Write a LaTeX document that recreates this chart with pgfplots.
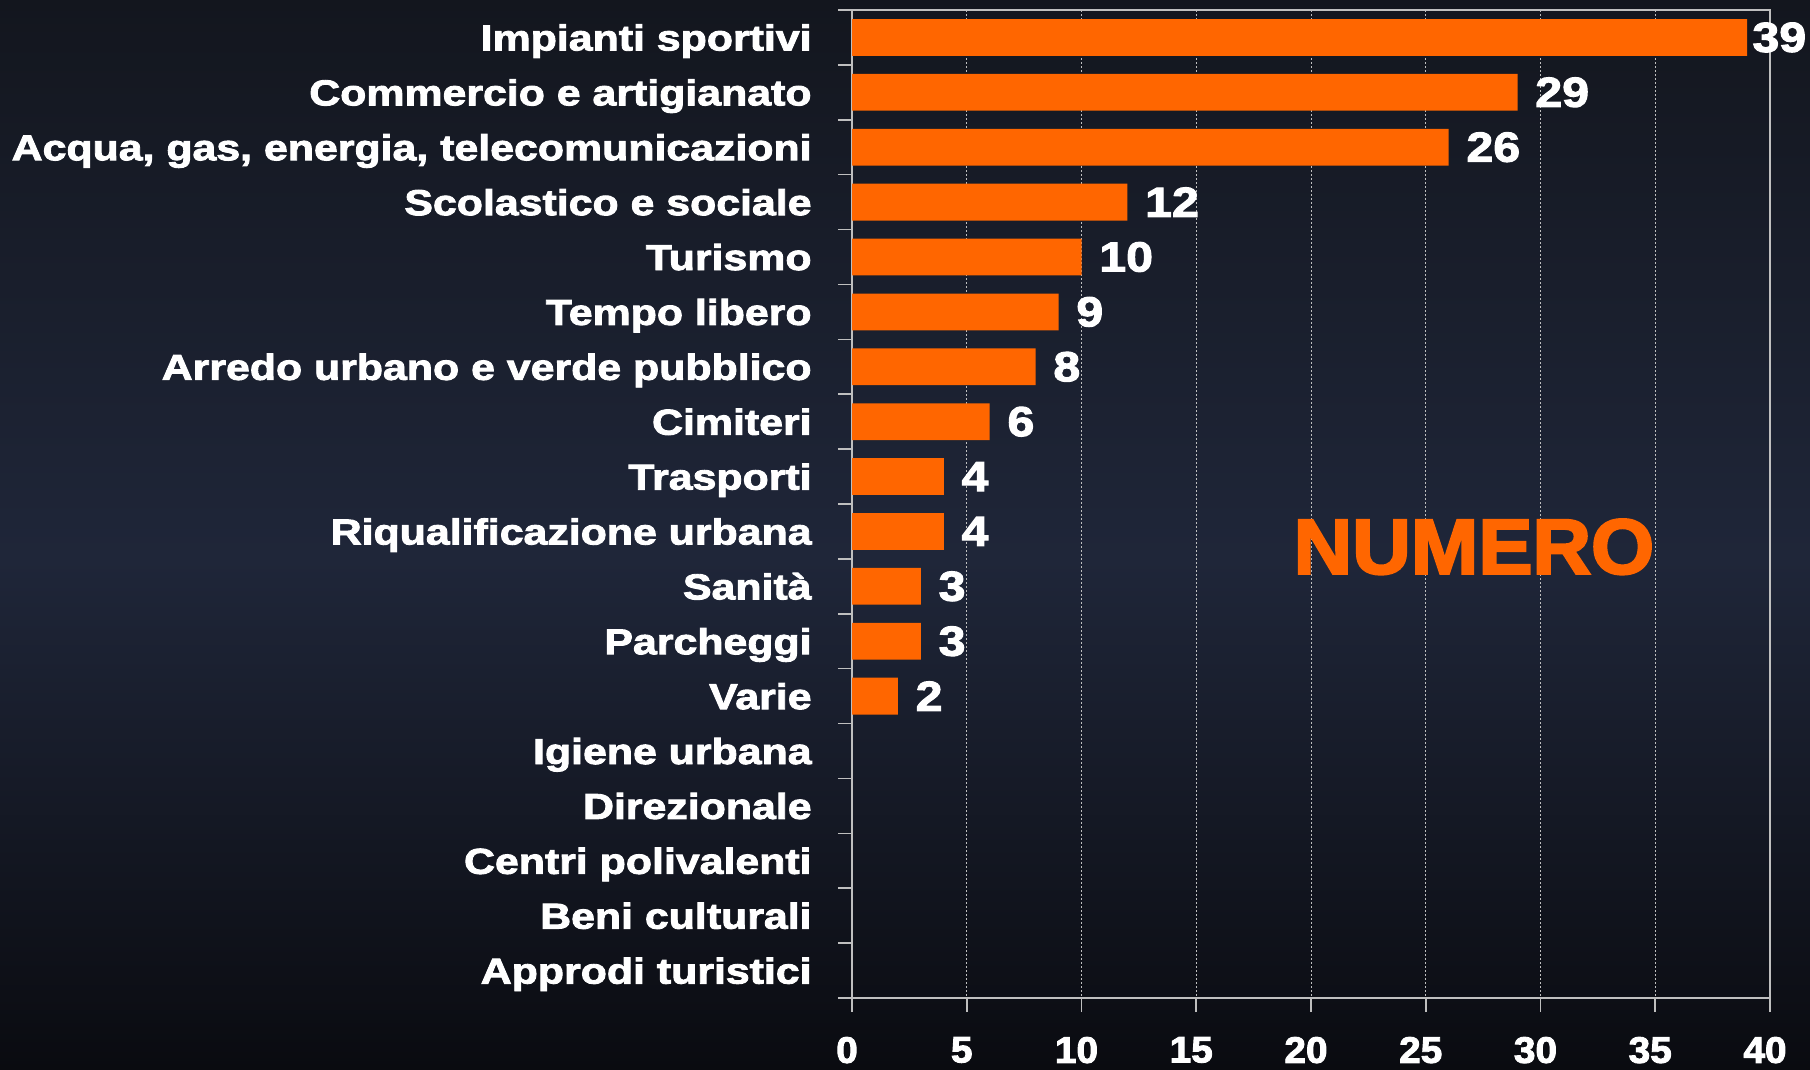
\documentclass[border=0pt]{standalone}
\usepackage{fontspec}
\usepackage{pgfplots}
\pgfplotsset{compat=1.18}
\newfontfamily\lblfont[FakeStretch=1.19,FakeBold=2.5]{Liberation Sans Bold}
\newfontfamily\valfont[FakeStretch=1.15,FakeBold=2.5]{Liberation Sans Bold}
\newfontfamily\tickfont[FakeStretch=1.05,FakeBold=2.5]{Liberation Sans Bold}
\newfontfamily\bigfont[FakeStretch=1.04,FakeBold=3]{Liberation Sans Bold}
\definecolor{bgtop}{HTML}{13161E}
\definecolor{bgmid}{HTML}{1F2639}
\definecolor{bgbot}{HTML}{0A0B10}
\definecolor{barorange}{HTML}{FF6600}
\definecolor{axgray}{HTML}{BFBFBF}
\begin{document}
\begin{tikzpicture}
\shade[top color=bgtop, bottom color=bgmid] (0,255pt) rectangle (905pt,535pt);
\shade[top color=bgmid, bottom color=bgbot] (0,0) rectangle (905pt,255.5pt);
\begin{axis}[
  at={(426pt,36pt)}, anchor=south west,
  width=459pt, height=494pt, scale only axis,
  xmin=0, xmax=40, ymin=-0.5, ymax=17.5, y dir=reverse,
  clip=false,
  xtick={0,5,...,40},
  ytick={-0.5,0.5,...,17.5},
  yticklabel=\empty,
  extra y ticks={0,1,...,17},
  extra y tick labels={Impianti sportivi,Commercio e artigianato,{Acqua, gas, energia, telecomunicazioni},Scolastico e sociale,Turismo,Tempo libero,Arredo urbano e verde pubblico,Cimiteri,Trasporti,Riqualificazione urbana,Sanità,Parcheggi,Varie,Igiene urbana,Direzionale,Centri polivalenti,Beni culturali,Approdi turistici},
  extra y tick style={tick style={draw=none}},
  tick pos=left,
  tick align=outside,
  major tick length=7pt,
  axis line style={axgray, line width=0.9pt},
  tick style={axgray, line width=0.8pt},
  xmajorgrids,
  grid style={axgray, line width=0.5pt, dash pattern=on 1.2pt off 0.8pt},
  /pgf/number format/assume math mode=true,
  xticklabel style={font=\tickfont\fontsize{18.5pt}{20pt}\selectfont, text=white, anchor=north, inner sep=0pt, yshift=-12.3pt, xshift=-2.5pt},
  yticklabel style={font=\lblfont\fontsize{18pt}{20pt}\selectfont, text=white, anchor=base east, inner sep=0pt, xshift=-13pt, yshift=-6.5pt},
]
\addplot[xbar, bar width=0.67, bar shift=0pt, fill=barorange, draw=none,
  nodes near coords, nodes near coords align={horizontal},
  visualization depends on={rawx \as \rawx},
  every node near coord/.append style={anchor=west, inner sep=0pt, text=white,
    font=\valfont\fontsize{21pt}{23pt}\selectfont,
    xshift={(\rawx>35 ? 2.5 : 8.7)*1pt}}]
coordinates {(39,0) (29,1) (26,2) (12,3) (10,4) (9,5) (8,6) (6,7) (4,8) (4,9) (3,10) (3,11) (2,12)};
\node[font=\bigfont\fontsize{39pt}{41pt}\selectfont, text=barorange, inner sep=0pt] at (axis cs:27.1,9.28) {NUMERO};
\end{axis}
\pgfresetboundingbox
\path[use as bounding box] (0,0) rectangle (905pt,535pt);
\end{tikzpicture}
\end{document}
